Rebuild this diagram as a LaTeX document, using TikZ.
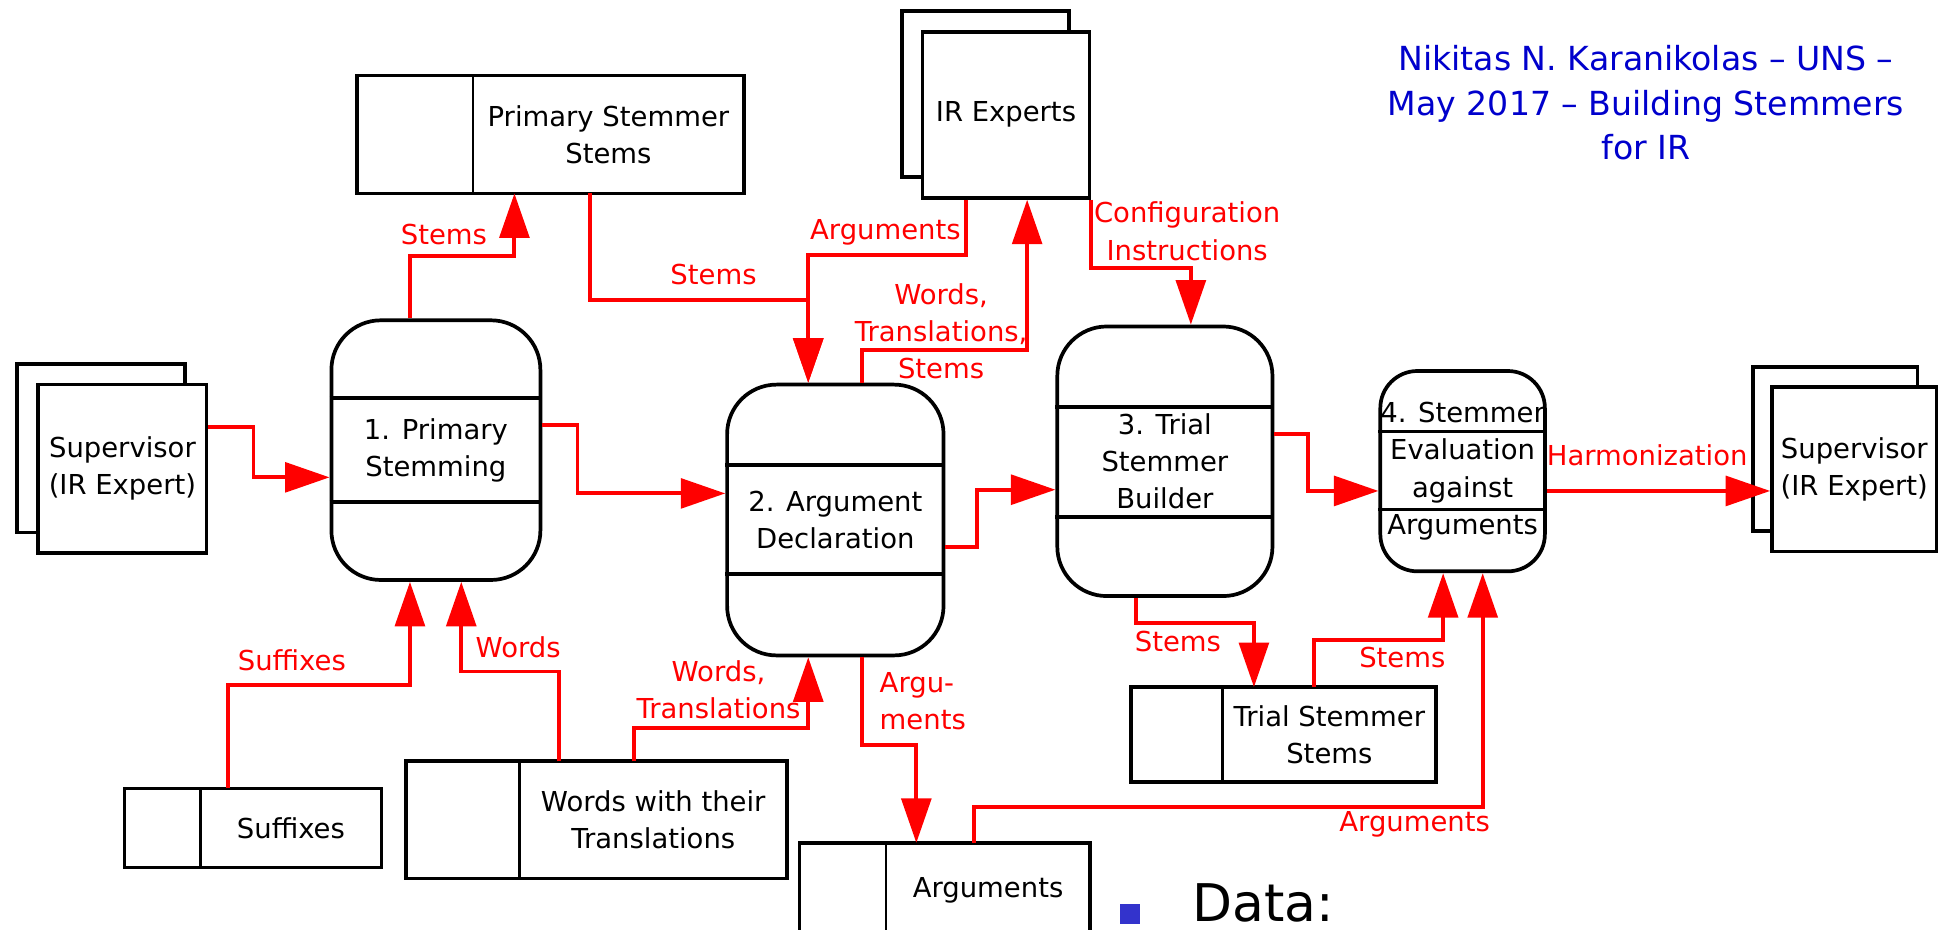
\documentclass[tikz,border=0pt]{standalone}
\usepackage{fontspec}
\setmainfont{DejaVu Sans}
\usetikzlibrary{arrows.meta}

\definecolor{flowred}{RGB}{255,0,0}
\definecolor{titleblue}{RGB}{0,0,204}
\definecolor{bulletblue}{RGB}{51,51,204}
\newcommand\diag{\fontsize{11.1}{15}\selectfont}

\tikzset{every picture/.style={line width=1.4pt},
  box/.style={draw, line width=1.5pt, fill=white},
  ent/.style={box, align=center, inner sep=1pt, font=\diag},
  proc/.style={box, rounded corners=20pt, inner sep=0pt, align=center, font=\diag},
  store/.style={inner sep=0pt, align=center, font=\diag},
  frame/.style={draw, line width=1.5pt},
  divider/.style={draw, line width=0.9pt},
  flow/.style={draw=flowred, line width=1.6pt, -{Triangle[length=18pt,width=12pt]}},
  lbl/.style={text=flowred, align=center, inner sep=0pt, font=\diag}
}

\begin{document}
\begin{tikzpicture}[x=0.5pt,y=0.5pt,yscale=-1]
\useasboundingbox (0,0) rectangle (1568,752);

%Shape: external entities (double boxes)
\node[ent, minimum width=68pt, minimum height=68pt] (supLb) at (81.7,362.5) {};
\node[ent, minimum width=68pt, minimum height=68pt] (supL) at (99,379) {Supervisor\\(IR Expert)};
\node[ent, minimum width=67.5pt, minimum height=67.2pt] (irxb) at (797,76) {};
\node[ent, minimum width=67.5pt, minimum height=67.2pt] (irx) at (813.5,92.8) {IR Experts};
\node[ent, minimum width=66.5pt, minimum height=66.5pt] (supRb) at (1484,363) {};
\node[ent, minimum width=66.5pt, minimum height=66.5pt] (supR) at (1499.5,379.5) {Supervisor\\(IR Expert)};

%Shape: processes
\node[proc, minimum width=84.5pt, minimum height=105pt] (p1) at (352.5,364) {1. Primary\\Stemming};
\draw[line width=1.5pt] (p1.west |- 0,322) -- (p1.east |- 0,322) (p1.west |- 0,406) -- (p1.east |- 0,406);
\node[proc, minimum width=87.5pt, minimum height=109.5pt] (p2) at (675.5,420.5) {2. Argument\\Declaration};
\draw[line width=1.5pt] (p2.west |- 0,376) -- (p2.east |- 0,376) (p2.west |- 0,464) -- (p2.east |- 0,464);
\node[proc, minimum width=87pt, minimum height=109pt] (p3) at (942,373) {3. Trial\\Stemmer\\Builder};
\draw[line width=1.5pt] (p3.west |- 0,329) -- (p3.east |- 0,329) (p3.west |- 0,418) -- (p3.east |- 0,418);
\node[proc, rounded corners=15pt, minimum width=65.25pt, minimum height=81pt] (p4) at (1182.75,381) {4. Stemmer\\Evaluation\\against\\Arguments};
\draw[line width=1.5pt] (p4.west |- 0,349) -- (p4.east |- 0,349) (p4.west |- 0,412) -- (p4.east |- 0,412);

%Shape: data stores
\node[store, minimum width=108pt, minimum height=46.25pt] (pss) at (492,108.75) {Primary Stemmer\\Stems};
\draw[frame] ([xshift=-47pt]pss.north west) rectangle (pss.south east);
\draw[divider] (pss.north west) -- (pss.south west);
\node[store, minimum width=71.75pt, minimum height=30.5pt] (suf) at (235.25,669.5) {Suffixes};
\draw[frame] ([xshift=-30.75pt]suf.north west) rectangle (suf.south east);
\draw[divider] (suf.north west) -- (suf.south west);
\node[store, minimum width=106.75pt, minimum height=46pt] (wwt) at (528.25,663) {Words with their\\Translations};
\draw[frame] ([xshift=-45.75pt]wwt.north west) rectangle (wwt.south east);
\draw[divider] (wwt.north west) -- (wwt.south west);
\node[store, minimum width=81pt, minimum height=37pt] (arg) at (799,720) {Arguments};
\draw[frame] ([xshift=-35pt]arg.north west) rectangle (arg.south east);
\draw[divider] (arg.north west) -- (arg.south west);
\node[store, minimum width=85pt, minimum height=37pt] (tss) at (1075,594) {Trial Stemmer\\Stems};
\draw[frame] ([xshift=-37pt]tss.north west) rectangle (tss.south east);
\draw[divider] (tss.north west) -- (tss.south west);

%Straight Lines: data flows
\draw[flow] (supL.east |- 0,345) -| (205,386) -- (p1.west |- 0,386);
\draw[flow] (p1.east |- 0,344) -| (467,399) -- (p2.west |- 0,399);
\draw[flow] (p1.north -| 331.5,0) |- (416,207) -- (pss.south -| 416,0);
\draw[flow] (pss.south -| 477,0) |- (653.6,242.6) -- (p2.north -| 653.6,0);
\draw[flow] (irx.south -| 781,0) |- (653.6,206) -- (p2.north -| 653.6,0);
\draw[flow] (p2.north -| 697,0) |- (830.6,283) -- (irx.south -| 830.6,0);
\draw[flow] (irx.south east) |- (963,217) -- (p3.north -| 963,0);
\draw[flow] (p2.east |- 0,442) -| (790,396) -- (p3.west |- 0,396);
\draw[flow] (p3.east |- 0,351) -| (1058,397) -- (p4.west |- 0,397);
\draw[flow] (p4.east |- 0,397) -- (supR.west |- 0,397);
\draw[flow] (suf.north -| 184,0) |- (331.5,554) -- (p1.south -| 331.5,0);
\draw[flow] (wwt.north -| 452,0) |- (373,543) -- (p1.south -| 373,0);
\draw[flow] (wwt.north -| 512.6,0) |- (653.6,589) -- (p2.south -| 653.6,0);
\draw[flow] (p2.south -| 697,0) |- (741,602.6) -- (arg.north -| 741,0);
\draw[flow] (p3.south -| 918.8,0) |- (1014,504) -- (tss.north -| 1014,0);
\draw[flow] (tss.north -| 1062.6,0) |- (1167,517.6) -- (p4.south -| 1167,0);
\draw[flow] (arg.north -| 787.4,0) |- (1199,652.3) -- (p4.south -| 1199,0);

% Text Node: flow labels
\node[lbl] (lstems1) at (359,190) {Stems};
\node[lbl] (lstems2) at (577,222) {Stems};
\node[lbl] (largs1) at (716,188) {Arguments};
\node[lbl] (lwts) at (761,268) {Words,\\Translations,\\Stems};
\node[lbl] (lconf) at (960,187) {Configuration\\Instructions};
\node[lbl] (lharm) at (1332,368) {Harmonization};
\node[lbl] (lsuf) at (236,534) {Suffixes};
\node[lbl] (lwords) at (419,523) {Words};
\node[lbl] (lwt) at (581,558) {Words,\\Translations};
\node[lbl, align=left, anchor=west] (largs2) at (710,567) {Argu-\\ments};
\node[lbl] (lstems3) at (952.5,519) {Stems};
\node[lbl] (lstems4) at (1134,532) {Stems};
\node[lbl] (largs3) at (1144,667) {Arguments};

% Text Node: title and bullet
\node[text=titleblue, align=center, font=\fontsize{13.4}{18}\selectfont] (title) at (1331,83) {Nikitas N. Karanikolas -- UNS --\\May 2017 -- Building Stemmers\\for IR};
\fill[bulletblue] (906,731) rectangle (922,747);
\node[anchor=base west, inner sep=0pt, font=\fontsize{21}{25}\selectfont] (data) at (963,745) {Data:};

\end{tikzpicture}
\end{document}
